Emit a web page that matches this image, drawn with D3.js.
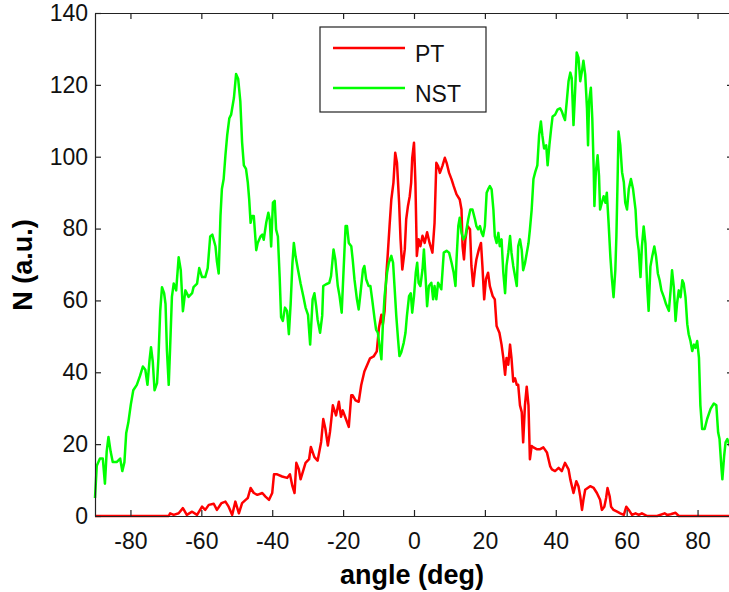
<!DOCTYPE html>
<html>
<head>
<meta charset="utf-8">
<script src="https://cdn.jsdelivr.net/npm/d3@7"></script>
<style>
  html, body { margin: 0; padding: 0; background: #fff; }
  svg { display: block; }
  text { font-family: "Liberation Sans", Arial, sans-serif; }
</style>
</head>
<body>
<svg id="chart"></svg>
<script>
// values
const xTicks = [-80, -60, -40, -20, 0, 20, 40, 60, 80]
const yTicks = [0, 20, 40, 60, 80, 100, 120, 140]
const seriesNames = ["PT", "NST"]
const seriesColors = ["#ff0000", "#00ff00"]

const ptAngle = [-90, -69.2, -68.8, -67.8, -66.4, -65.2, -64.1, -62.6, -61.2, -59.8, -58.9, -57.9, -56.5, -55.6, -54.3, -53.2, -52.3, -51.3, -50.4, -49.4, -48.5, -47.5, -46.9, -46.1, -45.2, -44.2, -42.8, -41.9, -40.9, -40.0, -39.5, -38.6, -37.2, -35.8, -35.0, -34.3, -33.7, -33.2, -32.5, -32.0, -31.3, -30.6, -29.6, -29.1, -28.1, -27.2, -26.2, -25.6, -25.0, -24.3, -23.7, -22.9, -22.0, -21.2, -20.6, -20.1, -19.2, -18.4, -17.7, -17.3, -16.5, -15.6, -14.9, -14.0, -13.0, -12.4, -11.4, -10.5, -9.9, -9.2, -8.8, -8.3, -7.8, -7.4, -6.9, -6.4, -5.8, -5.3, -4.8, -4.2, -3.8, -3.3, -2.6, -2.2, -1.7, -1.2, -0.8, -0.5, 0.0, 0.4, 0.8, 1.3, 1.8, 2.4, 3.0, 3.7, 4.4, 5.2, 5.8, 6.3, 6.8, 7.3, 8.0, 8.7, 9.2, 9.9, 10.6, 11.2, 12.0, 12.9, 13.4, 13.7, 14.1, 14.5, 15.1, 15.8, 16.2, 16.7, 17.2, 17.6, 18.3, 18.9, 19.3, 19.8, 20.3, 20.9, 21.4, 22.2, 22.8, 23.3, 24.1, 24.7, 25.2, 25.7, 26.1, 26.6, 27.1, 27.5, 28.0, 28.5, 29.0, 29.4, 29.9, 30.4, 30.8, 31.3, 31.8, 32.3, 32.7, 33.2, 33.7, 34.6, 35.6, 36.5, 37.5, 38.4, 38.9, 39.8, 40.8, 41.7, 42.6, 43.6, 44.1, 45.0, 45.8, 46.4, 46.9, 47.4, 47.8, 48.3, 49.0, 49.7, 50.7, 51.6, 52.5, 53.0, 53.7, 54.2, 54.6, 55.2, 55.6, 56.3, 57.3, 58.2, 59.2, 59.9, 60.6, 61.5, 62.5, 63.4, 64.3, 65.8, 68.6, 70.7, 71.4, 72.4, 73.8, 74.7, 90]
const ptCount = [0, 0, 0.75, 0.3, 0.75, 2.2, 0.3, 1.2, 0.3, 2.6, 1.7, 3.1, 3.4, 1.7, 3.6, 4, 2.6, 0.3, 4, 0.75, 3.6, 4.5, 5, 7.8, 6.4, 5.9, 6.4, 5.4, 4.5, 6.4, 11.6, 11.6, 11, 10.6, 11.6, 8.3, 6.4, 14.8, 13, 10.2, 12.5, 14.8, 15.8, 19.2, 16.4, 15.4, 20.6, 27, 24.3, 19.6, 23.4, 30.8, 28, 31.8, 27.6, 29.4, 27, 24.8, 33.6, 33.6, 32.2, 31.8, 36.4, 40.2, 42.5, 43.9, 44.4, 45.8, 52.3, 56, 53.3, 57, 67.3, 72.9, 80.7, 88.1, 92.8, 101.1, 98.3, 87.2, 77, 68.6, 74.2, 82.6, 86.3, 89, 92.8, 99.7, 103.9, 92.8, 72.4, 77, 75.1, 78, 76, 79, 76, 73.3, 81.6, 98.3, 97.4, 95.5, 97.4, 99.7, 98.3, 95.5, 93.7, 91.8, 89.5, 88.1, 85.3, 75.1, 71.4, 77, 80.7, 79.8, 69.6, 64, 68.6, 71.4, 74.2, 76, 69.6, 60.3, 65.9, 67.7, 64, 61.2, 60.3, 52.9, 51, 47.7, 44, 39.3, 44, 42.1, 47.7, 44, 37.4, 38.3, 36.5, 36.5, 30.8, 28.9, 20.5, 30.8, 36, 30.8, 15.8, 19.5, 19.1, 18.6, 18.6, 19.1, 17.7, 13.9, 13, 12.5, 13.4, 12.5, 14.8, 13, 10.2, 6.4, 9.7, 8.3, 5.5, 1.7, 4.5, 7.3, 7.8, 8.3, 7.8, 6.4, 4.5, 1.7, 2.6, 5, 7.8, 5.5, 2.6, 1.7, 1.2, 0.75, 0.3, 2.6, 1.7, 0.3, 0.75, 0.3, 0.75, 0, 0, 0.75, 0.3, 0.5, 0.9, 0, 0]

const nstAngle = [-90.0, -89.5, -88.6, -87.8, -87.2, -86.7, -86.2, -85.6, -85.0, -83.9, -82.9, -82.3, -81.7, -81.2, -80.6, -79.9, -79.2, -78.2, -77.3, -76.5, -75.8, -75.2, -74.6, -74.2, -73.7, -73.2, -72.5, -72.1, -71.6, -71.1, -70.5, -70.1, -69.7, -69.2, -68.8, -68.3, -67.8, -67.1, -66.4, -65.8, -65.2, -64.5, -63.6, -62.6, -62.2, -61.2, -60.6, -59.8, -58.9, -58.2, -57.5, -56.9, -56.0, -55.6, -55.1, -54.6, -54.2, -53.7, -53.2, -52.7, -52.1, -51.6, -50.8, -50.2, -49.6, -49.0, -48.5, -48.0, -47.4, -46.9, -46.5, -46.1, -45.7, -45.2, -44.5, -44.1, -43.3, -42.8, -42.4, -41.7, -41.1, -40.7, -40.3, -39.8, -39.3, -38.9, -38.4, -37.9, -37.5, -37.0, -36.4, -35.8, -35.3, -34.8, -34.3, -33.9, -33.4, -32.7, -32.0, -31.2, -30.6, -29.9, -29.3, -28.6, -28.1, -27.6, -27.2, -26.5, -25.9, -25.6, -24.8, -23.9, -23.4, -22.7, -22.2, -21.5, -21.0, -20.4, -19.9, -19.3, -18.9, -18.4, -17.7, -17.3, -16.8, -16.1, -15.6, -15.1, -14.4, -14.0, -13.5, -12.8, -12.3, -11.8, -11.1, -10.7, -10.2, -9.7, -9.2, -8.8, -8.3, -7.6, -7.1, -6.4, -5.9, -5.5, -5.0, -4.5, -4.1, -3.6, -2.9, -2.4, -2.0, -1.4, -0.9, -0.5, 0.0, 0.5, 0.9, 1.3, 1.8, 2.4, 2.8, 3.3, 3.7, 4.2, 4.9, 5.4, 5.8, 6.3, 6.8, 7.3, 7.7, 8.4, 9.2, 9.9, 10.6, 11.2, 11.7, 12.0, 12.5, 12.9, 13.4, 13.9, 14.5, 15.3, 15.9, 16.5, 17.2, 17.6, 18.1, 18.6, 19.1, 19.5, 20.0, 20.5, 20.9, 21.4, 21.9, 22.4, 22.8, 23.3, 23.8, 24.2, 24.7, 25.2, 25.7, 26.1, 26.6, 27.1, 27.5, 28.0, 28.5, 29.0, 29.4, 29.9, 30.4, 30.8, 31.3, 31.8, 32.3, 32.7, 33.2, 33.7, 34.2, 34.8, 35.3, 35.8, 36.2, 36.7, 37.3, 37.7, 38.2, 38.7, 39.1, 39.8, 40.5, 41.2, 41.7, 42.2, 42.6, 43.1, 43.6, 44.1, 44.5, 45.0, 45.5, 45.9, 46.4, 46.9, 47.4, 47.8, 48.3, 48.8, 49.1, 49.4, 49.9, 50.3, 50.7, 50.9, 51.3, 51.8, 52.2, 52.5, 53.0, 53.5, 54.0, 54.4, 54.9, 55.4, 55.8, 56.3, 56.8, 57.1, 57.5, 57.7, 58.2, 58.7, 59.2, 59.6, 60.1, 60.6, 61.2, 61.8, 62.5, 62.9, 63.4, 63.9, 64.3, 64.8, 65.3, 65.8, 66.2, 66.7, 67.2, 67.8, 68.3, 68.8, 69.3, 69.8, 70.5, 71.1, 71.9, 72.4, 72.8, 73.3, 73.8, 74.2, 74.7, 75.2, 75.7, 76.1, 76.6, 77.1, 77.5, 78.0, 78.5, 79.0, 79.4, 79.9, 80.4, 80.8, 81.3, 82.0, 82.7, 83.7, 84.6, 85.3, 85.8, 86.2, 86.7, 87.0, 87.5, 87.9, 88.4, 89.1, 90]
const nstCount = [5, 14, 16, 16, 9, 18, 22, 18, 15, 15, 16, 12.5, 15, 23, 26, 31, 35, 36.5, 39, 41.6, 40.7, 36.5, 43.5, 47, 43, 35, 37, 44, 57, 63.7, 62, 59, 46, 36.5, 47, 61, 64.7, 62.8, 72, 68.4, 57, 62.8, 61, 62, 63.7, 64.7, 69, 66.5, 66.5, 69, 77.8, 78.3, 75, 70.8, 67.5, 83.5, 91, 93.8, 100.4, 106, 110.7, 111.7, 116.4, 123, 121.6, 115.4, 104, 97.6, 96.6, 92.9, 88.2, 81.6, 83.5, 83.5, 74, 76, 77.8, 78.3, 76.9, 81.6, 84.4, 82.5, 75, 87.2, 87.7, 79.7, 77.8, 66.5, 55.3, 54.3, 58, 57, 50.6, 59, 70.3, 76, 72.2, 68.4, 64.7, 61, 58, 56, 47.7, 60.3, 62, 58.4, 54.7, 51, 55.7, 64, 64.5, 64.9, 66.8, 74.2, 71.4, 64, 61.2, 56.6, 67.7, 80.7, 80.7, 76, 75.1, 71.4, 65.9, 60.3, 57.5, 62, 68.6, 69.6, 65.9, 64, 64, 60.3, 54.7, 51.9, 51, 47.3, 43.6, 52.9, 61.2, 67.7, 70.5, 72.4, 70.5, 64, 55.7, 49.2, 44.5, 45.5, 48.2, 51, 55.7, 61.2, 62, 56.6, 61.2, 67.7, 70.5, 64.9, 64, 68.6, 74.2, 65.9, 58.4, 64, 64.9, 60.3, 64, 60.3, 64.9, 64, 63.1, 73.3, 73.8, 73.3, 70.5, 67.7, 64, 71.4, 80.7, 83, 78.8, 77, 77.9, 82.6, 85.3, 85.3, 82.6, 80.7, 79.8, 80.7, 78.8, 77.9, 80.7, 90, 90.9, 91.8, 90.9, 85.3, 77.9, 76, 78.8, 75.1, 77, 67.7, 62, 69.6, 73.3, 77.9, 73.3, 69.6, 66.8, 64, 75.1, 77, 74, 68.4, 70.3, 73.1, 75.9, 79.7, 85.3, 93.8, 95.7, 97.6, 106, 109.8, 106, 102.3, 103.2, 97.6, 103.2, 107.9, 111.2, 111.7, 113.1, 113.5, 112.6, 111.2, 110.2, 115.4, 121, 123.4, 121.9, 108.8, 119.2, 129, 127.6, 121, 123.9, 126.7, 122.9, 113.5, 103.2, 115.4, 119.2, 110.7, 96.6, 86.3, 95.7, 100.4, 94.7, 85.3, 87.2, 89, 87.2, 90, 81.6, 72.2, 66.5, 60.9, 68.4, 77.8, 96.6, 107, 103.2, 95.7, 92.9, 87.2, 85.3, 91, 93.8, 91, 85.3, 77.8, 74, 66.5, 75, 80.6, 75.9, 63.7, 57.1, 69.4, 72.2, 75, 72.2, 67.5, 65.6, 62.8, 60.9, 59, 57.1, 62.8, 68.4, 63.7, 54.3, 59, 62.8, 60.9, 65.6, 64.7, 60.9, 53.4, 50.6, 48.7, 45.9, 47.7, 46.8, 48.7, 44, 30.8, 24.2, 24.2, 27, 29.9, 31.3, 30.8, 23.3, 21.4, 13.9, 10.2, 16.7, 20.5, 21.4, 19.5, 21]

const width = 729
const height = 592
const margin = { left: 95, top: 13, right: -4, bottom: 76 }

const svg = d3.select("#chart")
    .attr("width", width)
    .attr("height", height)
    .style("background", "#ffffff")

const x = d3.scaleLinear()
    .domain([-90, 90])
    .range([margin.left, width - margin.right])

const y = d3.scaleLinear()
    .domain([0, 140])
    .range([height - margin.bottom, margin.top])

const series = [
    { name: seriesNames[0], color: seriesColors[0], points: ptAngle.map((a, i) => [a, ptCount[i]]) },
    { name: seriesNames[1], color: seriesColors[1], points: nstAngle.map((a, i) => [a, nstCount[i]]) }
]

const line = d3.line()
    .x(d => x(d[0]))
    .y(d => y(d[1]))

// data lines (PT first, NST on top)
svg.append("g")
    .selectAll("path")
    .data(series)
    .enter()
    .append("path")
    .attr("d", d => line(d.points))
    .attr("fill", "none")
    .attr("stroke", d => d.color)
    .attr("stroke-width", 2.5)
    .attr("stroke-linejoin", "round")

const axisColor = "#222"

// bottom axis with labels
const xAxis = d3.axisBottom(x)
    .tickValues(xTicks)
    .tickFormat(d => String(d))
    .tickSizeInner(-6)
    .tickSizeOuter(0)
    .tickPadding(17)

svg.append("g")
    .attr("transform", `translate(0,${y(0)})`)
    .call(xAxis)
    .call(g => g.selectAll("text").style("font-size", "23px").attr("fill", "#111"))

// top mirror axis
svg.append("g")
    .attr("transform", `translate(0,${y(140)})`)
    .call(d3.axisTop(x).tickValues(xTicks).tickFormat("").tickSizeInner(-6).tickSizeOuter(0))

// left axis with labels
const yAxis = d3.axisLeft(y)
    .tickValues(yTicks)
    .tickFormat(d => String(d))
    .tickSizeInner(-6)
    .tickSizeOuter(0)
    .tickPadding(7)

svg.append("g")
    .attr("transform", `translate(${x(-90)},0)`)
    .call(yAxis)
    .call(g => g.selectAll("text").style("font-size", "23px").attr("fill", "#111"))

// right mirror axis
svg.append("g")
    .attr("transform", `translate(${x(90)},0)`)
    .call(d3.axisRight(y).tickValues(yTicks).tickFormat("").tickSizeInner(-6).tickSizeOuter(0))

svg.selectAll(".domain, .tick line")
    .attr("stroke", axisColor)
    .attr("stroke-width", 1.2)

svg.selectAll(".tick text")
    .style("font-family", "'Liberation Sans', Arial, sans-serif")

// axis titles
svg.append("text")
    .attr("x", 412)
    .attr("y", 584)
    .attr("text-anchor", "middle")
    .style("font-size", "27px")
    .style("font-weight", "bold")
    .text("angle (deg)")

svg.append("text")
    .attr("transform", `translate(32,${265}) rotate(-90)`)
    .attr("text-anchor", "middle")
    .style("font-size", "27px")
    .style("font-weight", "bold")
    .text("N (a.u.)")

// legend
const legend = svg.append("g")

legend.append("rect")
    .attr("x", 320)
    .attr("y", 27)
    .attr("width", 166)
    .attr("height", 85)
    .attr("fill", "#fff")
    .attr("stroke", axisColor)
    .attr("stroke-width", 1.2)

const legendRows = legend.selectAll("g.row")
    .data(series)
    .enter()
    .append("g")
    .attr("class", "row")
    .attr("transform", (d, i) => `translate(0,${i * 40})`)

legendRows.append("line")
    .attr("x1", 333)
    .attr("x2", 405)
    .attr("y1", 48)
    .attr("y2", 48)
    .attr("stroke", d => d.color)
    .attr("stroke-width", 2.5)

legendRows.append("text")
    .attr("x", 415)
    .attr("y", 62)
    .style("font-size", "23px")
    .attr("fill", "#111")
    .text(d => d.name)
</script>
</body>
</html>
